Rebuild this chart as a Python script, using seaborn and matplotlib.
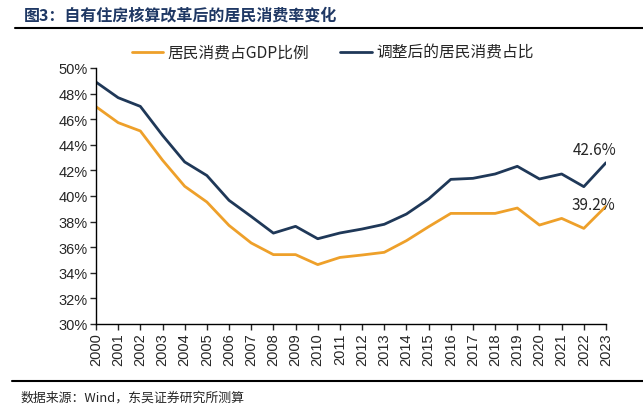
import numpy as np
import pandas as pd
import seaborn as sns
import matplotlib.pyplot as plt
from matplotlib.ticker import PercentFormatter

years = list(range(2000, 2024))
consumption_gdp = [46.98, 45.73, 45.08, 42.8, 40.76, 39.53, 37.7, 36.33, 35.42, 35.42,
                   34.64, 35.2, 35.39, 35.6, 36.51, 37.6, 38.64, 38.64, 38.64, 39.06,
                   37.73, 38.25, 37.47, 39.2]
adjusted = [48.9, 47.68, 47.0, 44.74, 42.66, 41.6, 39.66, 38.4, 37.1, 37.63,
            36.66, 37.11, 37.42, 37.79, 38.59, 39.77, 41.3, 41.38, 41.72, 42.32,
            41.33, 41.72, 40.73, 42.6]
series_names = ["居民消费占GDP比例", "调整后的居民消费占比"]

df = pd.DataFrame({"year": years, series_names[0]: consumption_gdp, series_names[1]: adjusted})
df_long = df.melt(id_vars="year", var_name="series", value_name="value")

sns.set_style("white")
plt.rcParams["font.family"] = ["Liberation Sans", "Noto Sans CJK SC", "DejaVu Sans"]

orange = "#EEA02A"
navy = "#1F3858"

fig = plt.figure(figsize=(6.43, 4.14), dpi=100)
ax = fig.add_axes([96 / 643, 1 - 325 / 414, 510 / 643, 256 / 414])

sns.lineplot(data=df_long, x="year", y="value", hue="series", palette=[orange, navy],
             linewidth=2, ax=ax, legend=False)

ax.set_xlim(2000, 2023)
ax.set_ylim(30, 50)
ax.set_xticks(years)
ax.set_xticklabels([str(y) for y in years], rotation=90, fontsize=10.5)
ax.set_yticks(np.arange(30, 51, 2))
ax.yaxis.set_major_formatter(PercentFormatter(decimals=0))
ax.tick_params(axis="y", labelsize=10.5, length=4, width=1, direction="out", left=True, pad=2)
ax.tick_params(axis="x", length=4, width=1, direction="out", bottom=True, pad=2)
ax.set_xlabel("")
ax.set_ylabel("")
for s in ["top", "right"]:
    ax.spines[s].set_visible(False)
for s in ["left", "bottom"]:
    ax.spines[s].set_color("black")
    ax.spines[s].set_linewidth(1)

cjk = ["Noto Sans CJK SC", "DejaVu Sans"]
ax.text(2022.5, adjusted[-1] + 1.0, f"{adjusted[-1]:.1f}%", ha="center", va="center",
        fontsize=11, family=cjk)
ax.text(2022.45, consumption_gdp[-1] + 0.1, f"{consumption_gdp[-1]:.1f}%", ha="center", va="center",
        fontsize=11, family=cjk)

# legend drawn manually in figure coordinates
fig.lines.append(plt.Line2D([132 / 643, 163 / 643], [1 - 53 / 414] * 2, color=orange, lw=2,
                            transform=fig.transFigure))
fig.text(167 / 643, 1 - 53 / 414, series_names[0], va="center", fontsize=11.3, family=cjk)
fig.lines.append(plt.Line2D([340 / 643, 372 / 643], [1 - 53 / 414] * 2, color=navy, lw=2,
                            transform=fig.transFigure))
fig.text(376 / 643, 1 - 53 / 414, series_names[1], va="center", fontsize=11.3, family=cjk)

# title and source
fig.text(24 / 643, 1 - 15 / 414, "图3：自有住房核算改革后的居民消费率变化", va="center",
         fontsize=11.5, fontweight="bold", color="#1F3864", family=cjk)
fig.lines.append(plt.Line2D([15 / 643, 1], [1 - 29 / 414] * 2, color="black", lw=1.5,
                            transform=fig.transFigure))
fig.lines.append(plt.Line2D([12 / 643, 1], [1 - 382 / 414] * 2, color="black", lw=1.5,
                            transform=fig.transFigure))
fig.text(20 / 643, 1 - 398 / 414, "数据来源：Wind，东吴证券研究所测算", va="center",
         fontsize=9.3, family=cjk)

fig.savefig("out.png", dpi=100)
